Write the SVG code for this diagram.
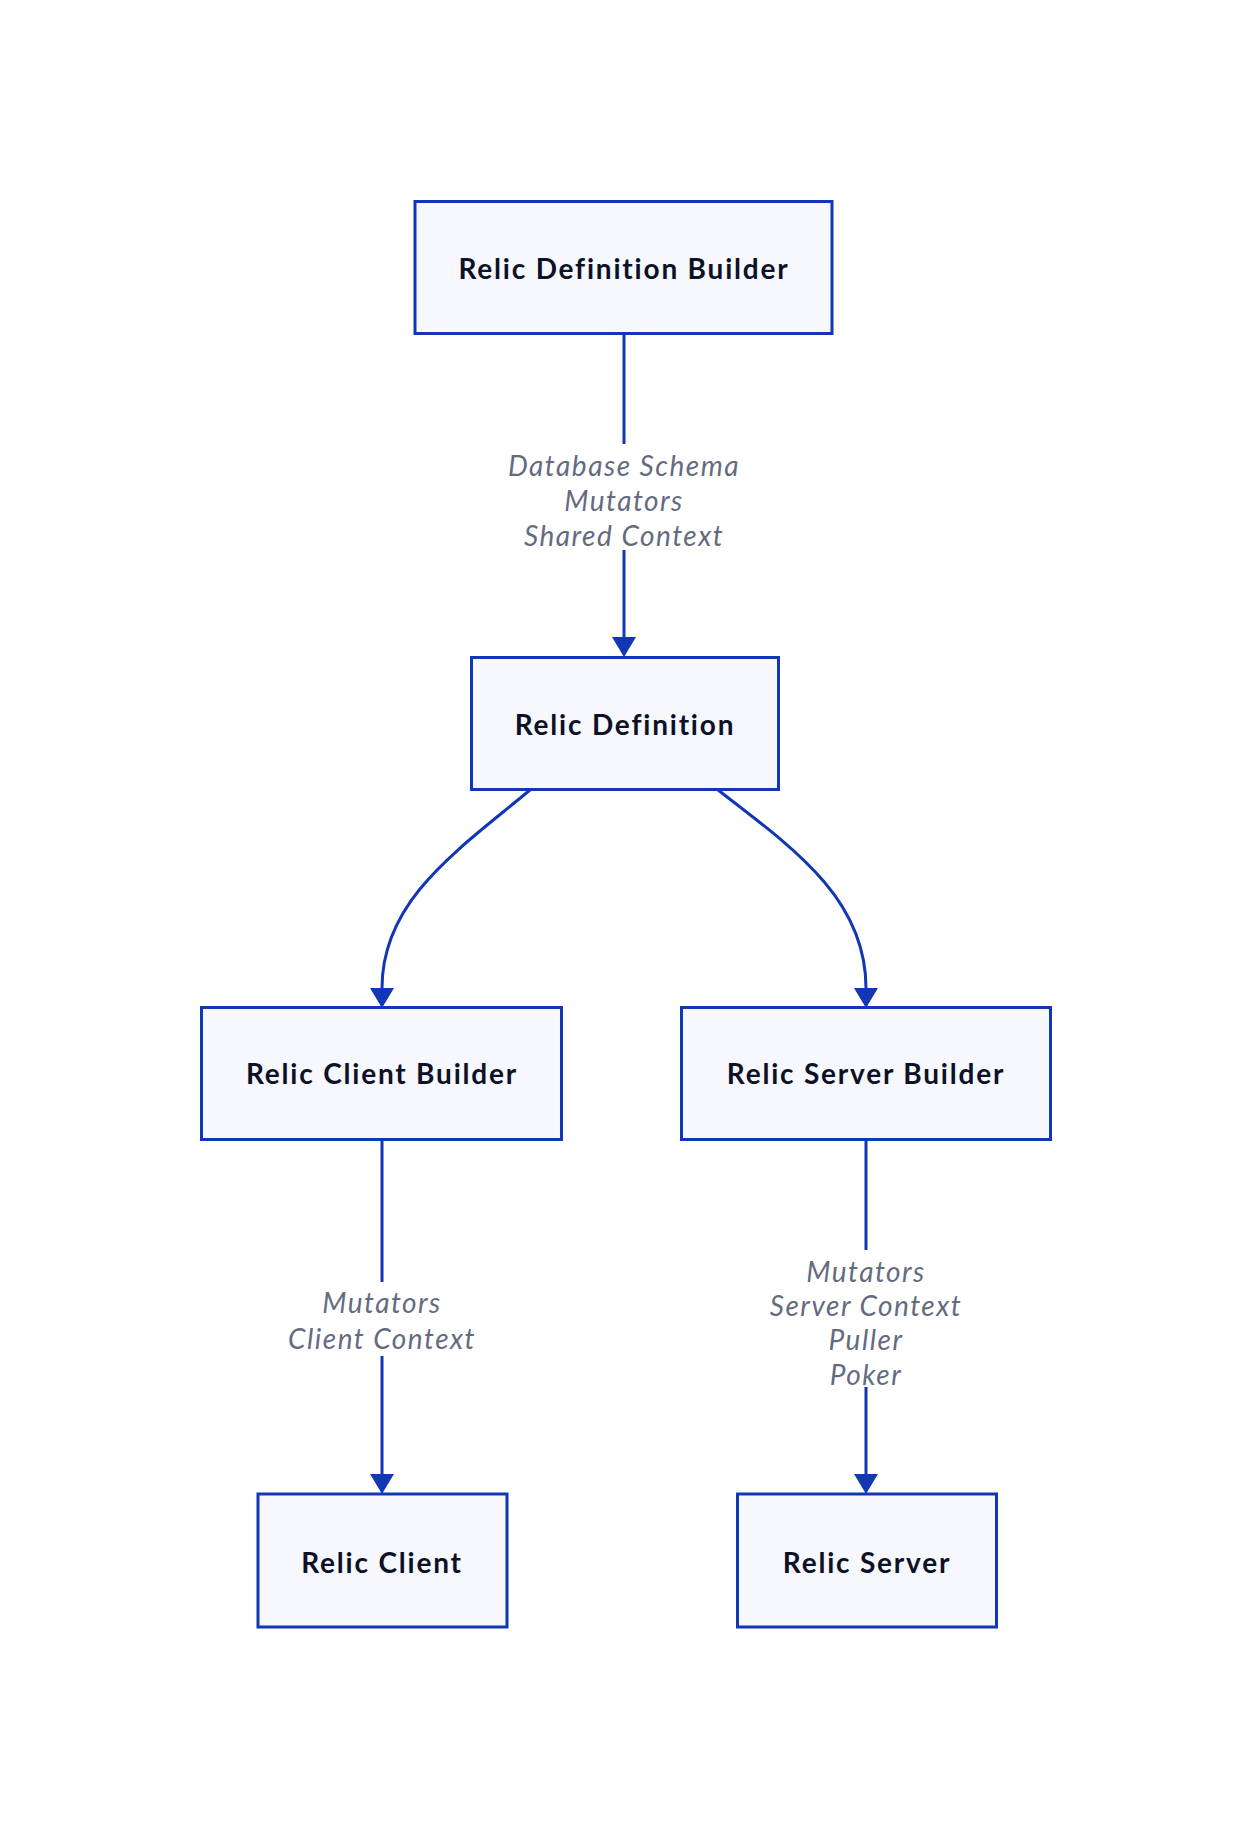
<svg xmlns="http://www.w3.org/2000/svg" width="1252" height="1830" viewBox="0 0 1252 1830">
<defs>
<style>
.node rect{fill:#f6f8fd;stroke:#1237b4;stroke-width:3}
.node text{font-family:Lato,"Noto Sans",sans-serif;font-weight:700;font-size:28px;fill:#0d1128;text-anchor:middle;letter-spacing:1.8px}
.edge{fill:none;stroke:#1237b4;stroke-width:3}
.lbl rect{fill:#ffffff}
.lbl text{font-family:Lato,"Noto Sans",sans-serif;font-style:italic;font-size:28px;fill:#646b80;text-anchor:middle;letter-spacing:1.5px}
</style>
<marker id="arr" markerUnits="userSpaceOnUse" viewBox="0 0 20 24" refX="0" refY="12" markerWidth="20" markerHeight="24" orient="auto">
<path d="M0,0 L20,12 L0,24 z" fill="#1237b4"/>
</marker>
</defs>
<rect width="1252" height="1830" fill="#ffffff"/>
<g id="connectors">
<path class="edge" d="M624,334 L624,637" marker-end="url(#arr)"/>
<path class="edge" d="M530,790 C458,850 382,900 382,988" marker-end="url(#arr)"/>
<path class="edge" d="M718,790 C796,850 866,900 866,988" marker-end="url(#arr)"/>
<path class="edge" d="M382,1140 L382,1474" marker-end="url(#arr)"/>
<path class="edge" d="M866,1140 L866,1474" marker-end="url(#arr)"/>
</g>
<g id="labels">
<g class="lbl" id="label-def">
<rect x="500" y="444" width="248" height="106"/>
<text x="624" y="476">Database Schema</text>
<text x="624" y="511">Mutators</text>
<text x="624" y="546">Shared Context</text>
</g>
<g class="lbl" id="label-client">
<rect x="288" y="1282" width="190" height="74"/>
<text x="382" y="1313">Mutators</text>
<text x="382" y="1349">Client Context</text>
</g>
<g class="lbl" id="label-server">
<rect x="768" y="1250" width="196" height="137"/>
<text x="866" y="1282">Mutators</text>
<text x="866" y="1316">Server Context</text>
<text x="866" y="1350">Puller</text>
<text x="866" y="1385">Poker</text>
</g>
</g>
<g class="node" id="relic-definition-builder">
<rect x="415" y="201.5" width="417" height="132"/>
<text x="624" y="279">Relic Definition Builder</text>
</g>
<g class="node" id="relic-definition">
<rect x="471.5" y="657.5" width="307" height="132"/>
<text x="625" y="735">Relic Definition</text>
</g>
<g class="node" id="relic-client-builder">
<rect x="201.5" y="1007.5" width="360" height="132"/>
<text x="382" y="1084">Relic Client Builder</text>
</g>
<g class="node" id="relic-server-builder">
<rect x="681.5" y="1007.5" width="369" height="132"/>
<text x="866" y="1084">Relic Server Builder</text>
</g>
<g class="node" id="relic-client">
<rect x="258" y="1494" width="249" height="133"/>
<text x="382" y="1573">Relic Client</text>
</g>
<g class="node" id="relic-server">
<rect x="737.5" y="1494" width="259" height="133"/>
<text x="867" y="1573">Relic Server</text>
</g>
</svg>
